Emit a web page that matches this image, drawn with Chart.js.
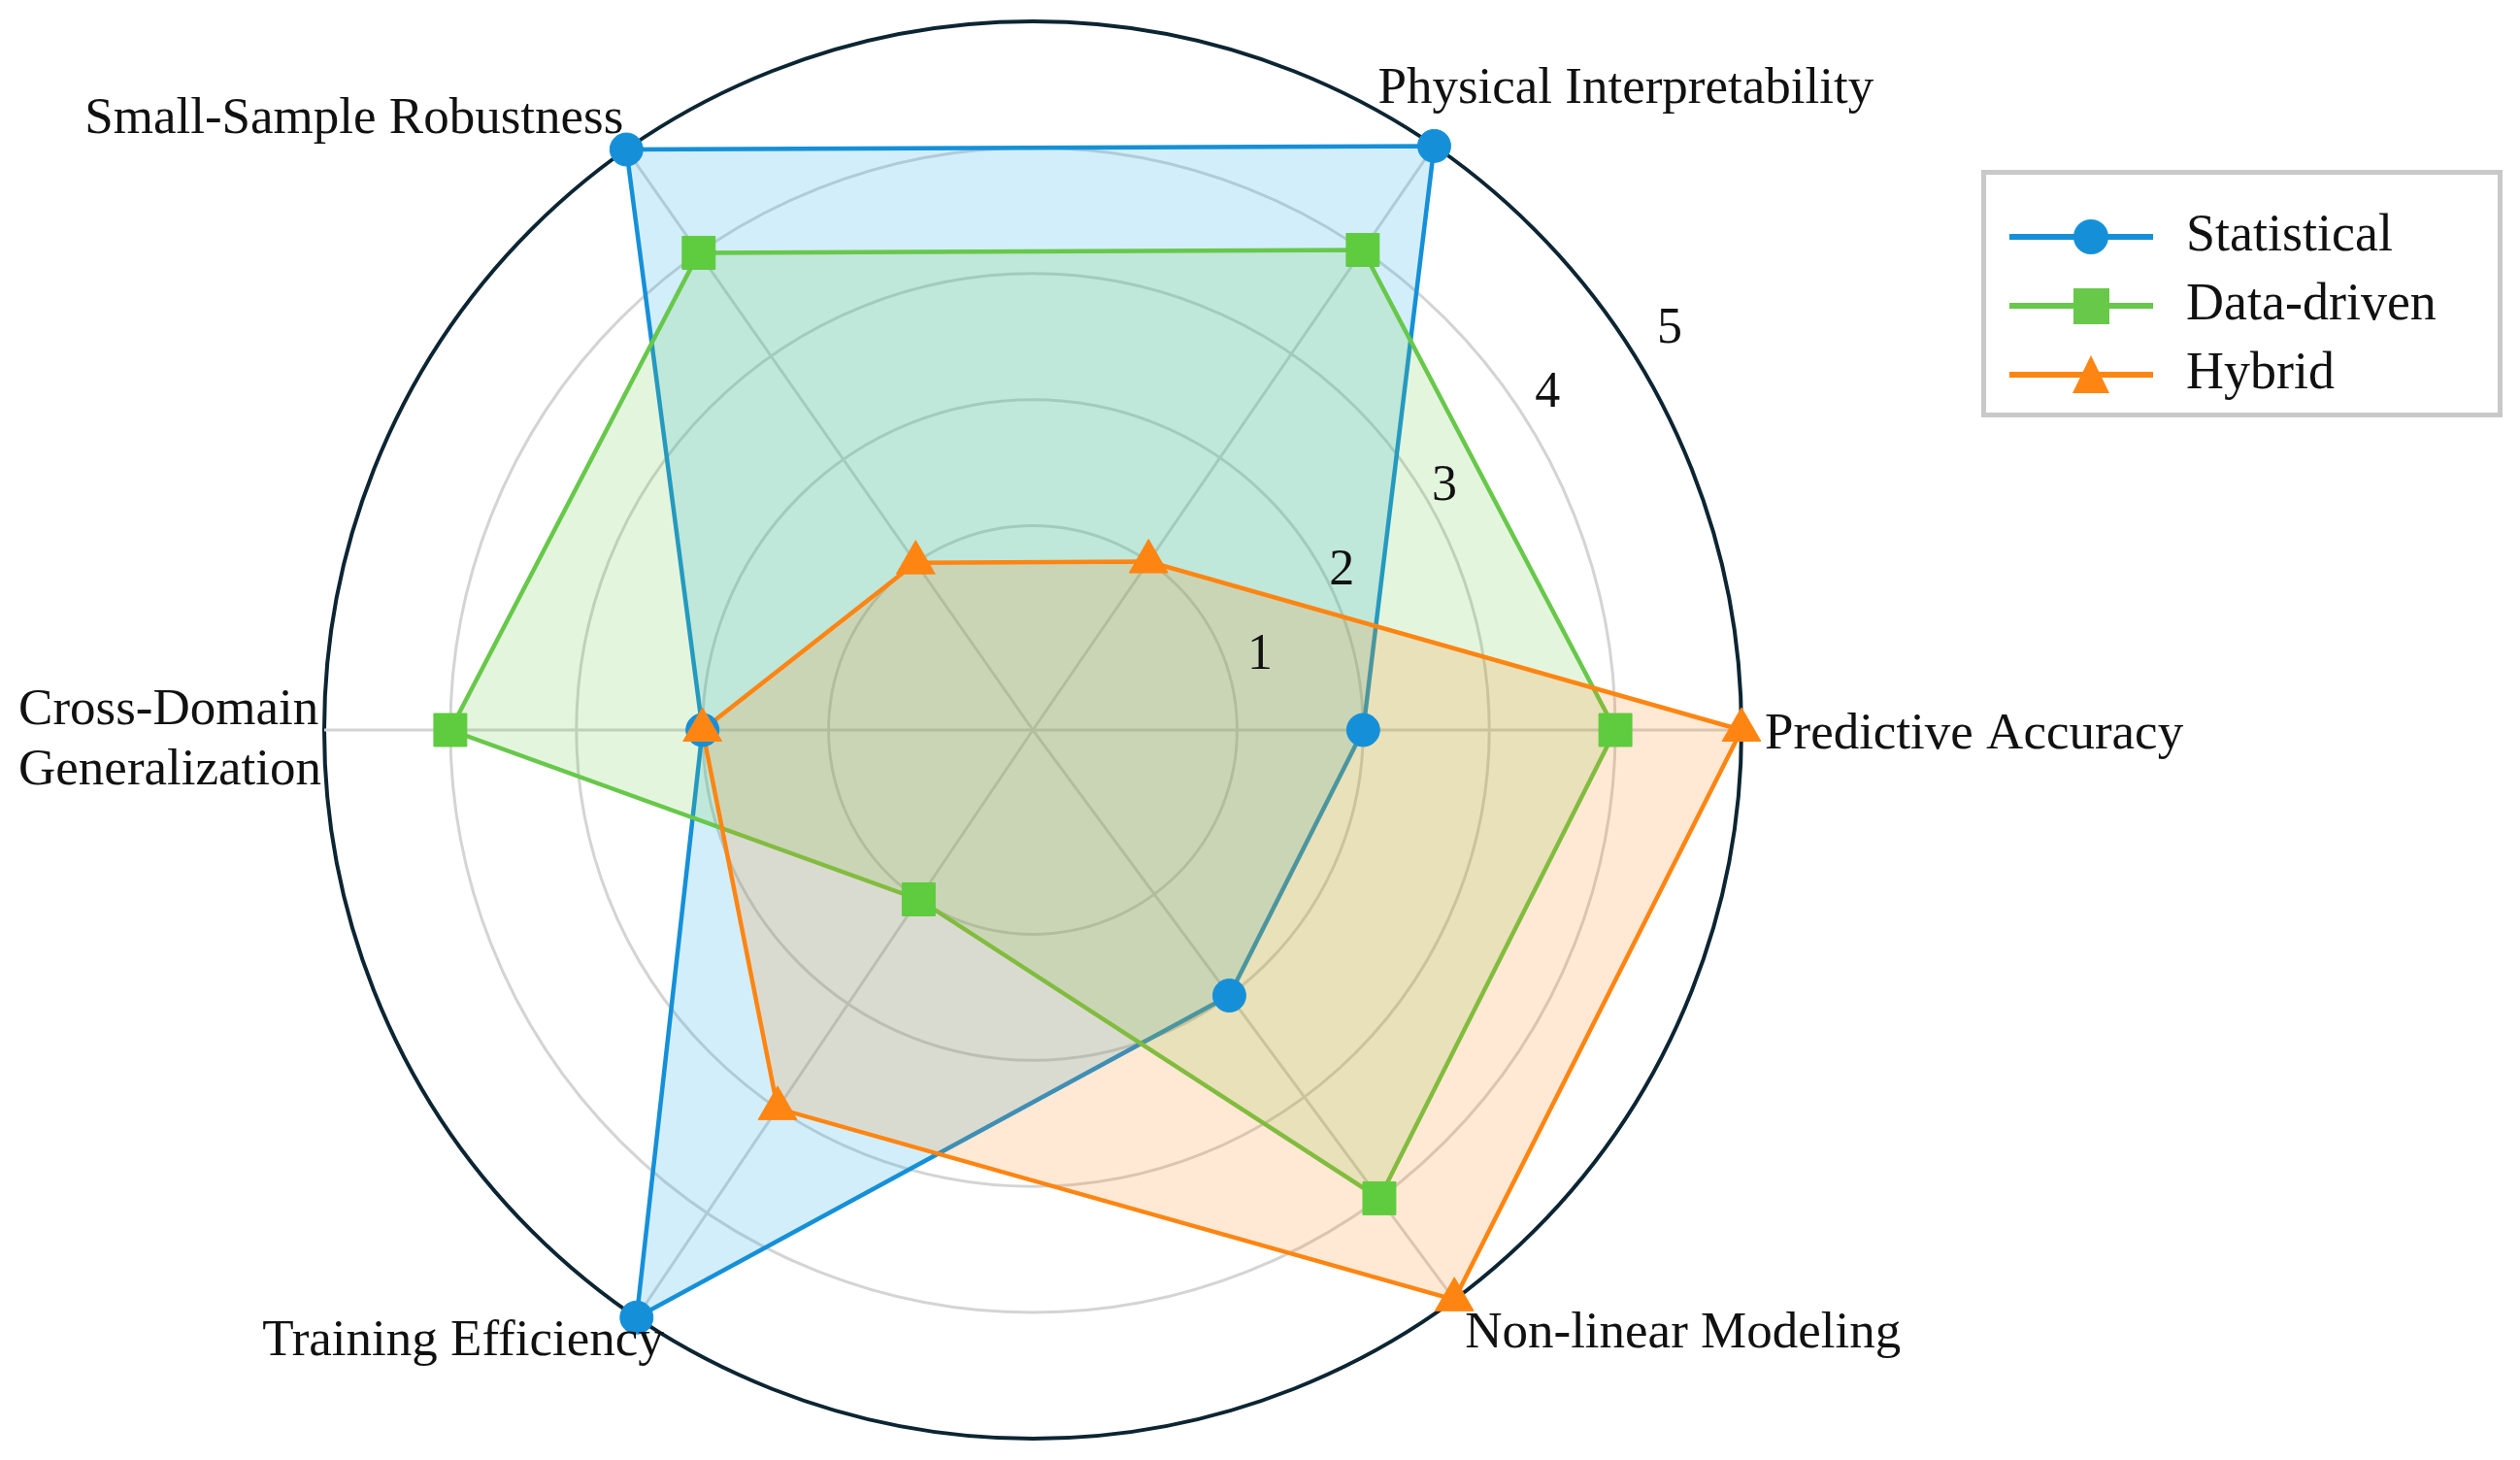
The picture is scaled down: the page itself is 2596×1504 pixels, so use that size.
<!DOCTYPE html>
<html>
<head>
<meta charset="utf-8">
<script src="https://cdn.jsdelivr.net/npm/chart.js@4.4.1/dist/chart.umd.min.js"></script>
<style>
  html, body { margin: 0; padding: 0; background: #fff; }
  #wrap { position: relative; width: 2596px; height: 1504px; }
  #legend { position: absolute; left: 2041px; top: 175px; width: 537px; height: 255px;
            box-sizing: border-box; border: 5px solid #c9c9c9; background: #fff;
            font-family: "Liberation Serif", serif; font-size: 54px; color: #111; }
  .row { position: absolute; left: 0; height: 60px; width: 100%; }
  .row svg { position: absolute; left: 24px; top: 10px; }
  .row span { position: absolute; left: 206px; top: -4px; line-height: 60px; white-space: nowrap; }
</style>
</head>
<body>
<div id="wrap">
  <canvas id="radar" width="2596" height="1504"></canvas>
  <div id="legend"></div>
</div>
<script>
// categories in clockwise order, starting at the right-hand spoke
const categories = ['Predictive Accuracy', 'Non-linear Modeling', 'Training Efficiency',
  ['Cross-Domain', 'Generalization'], 'Small-Sample Robustness', 'Physical Interpretability'];
const seriesNames = ['Statistical', 'Data-driven', 'Hybrid'];
const statistical = [2, 2, 5, 2, 5, 5];
const dataDriven = [4, 4, 1, 4, 4, 4];
const hybrid = [5, 5, 3, 2, 1, 1];
const tickValues = [1, 2, 3, 4, 5];

const blue = '#1590d8', green = '#67c84a', orange = '#ff8512';

// spokes in the picture are not evenly spaced (about 55 deg off the horizontal)
const spokeAngles = [0, 53.5, 124, 180, 235, 304.5];
class SpokeScale extends Chart.RadialLinearScale {
  getIndexAngle(index) {
    return (spokeAngles[index] + 90) * Math.PI / 180;
  }
}
SpokeScale.id = 'spokeRadial';
SpokeScale.defaults = Chart.RadialLinearScale.defaults;
Chart.register(SpokeScale);

const textFont = '"Liberation Serif", serif';

// label spots, relative to the outer end of each spoke
const labelPlace = [
  {align: 'left', dx: 24, dy: 1},
  {align: 'left', dx: 11, dy: 31},
  {align: 'right', dx: 28, dy: 21},
  {align: 'right', dx: -3, dy: 7},
  {align: 'right', dx: -3, dy: -35},
  {align: 'left', dx: -58, dy: -62}
];
const tickAngle = [18.9, 27.7, 30.9, 33.4, 32.4];
const tickPad = [37, 19, 24, 35, 47];

const textPlugin = {
  id: 'axisText',
  afterDatasetsDraw(chart) {
    const scale = chart.scales.r;
    const ctx = chart.ctx;
    const R = scale.drawingArea;
    ctx.save();
    ctx.fillStyle = '#111';
    ctx.textBaseline = 'alphabetic';
    ctx.textAlign = 'left';
    ctx.font = '53px ' + textFont;
    categories.forEach((label, i) => {
      const p = scale.getPointPosition(i, R);
      const pl = labelPlace[i];
      const lines = [].concat(label);
      const lh = 62;
      const widest = Math.max(...lines.map(s => ctx.measureText(s).width));
      lines.forEach((s, k) => {
        const cy = p.y + pl.dy + (k - (lines.length - 1) / 2) * lh;
        let x = p.x + pl.dx;
        if (pl.align === 'right') x -= widest;
        ctx.fillText(s, x, cy + 18);
      });
    });
    ctx.font = '52px ' + textFont;
    ctx.textAlign = 'center';
    tickValues.forEach((v, k) => {
      const d = scale.getDistanceFromCenterForValue(v) + tickPad[k];
      const a = tickAngle[k] * Math.PI / 180;
      ctx.fillText(String(v), scale.xCenter + d * Math.cos(a), scale.yCenter - d * Math.sin(a) + 17);
    });
    ctx.restore();
  }
};

// filled outline of one series (no markers)
function area(label, values, color, fillColor, order) {
  return {
    label: label,
    data: values,
    borderColor: color,
    backgroundColor: fillColor,
    borderWidth: 4.5,
    fill: 'start',
    pointRadius: 0,
    order: order
  };
}
// markers of one series, kept above every fill
function markers(label, values, color, style, radius, order) {
  return {
    label: label,
    data: values,
    borderColor: 'rgba(0,0,0,0)',
    backgroundColor: 'rgba(0,0,0,0)',
    borderWidth: 0,
    fill: false,
    pointStyle: style,
    pointRadius: radius,
    pointBackgroundColor: color,
    pointBorderColor: color,
    pointBorderWidth: 1,
    order: order
  };
}

new Chart(document.getElementById('radar'), {
  type: 'radar',
  data: {
    labels: categories,
    datasets: [
      area(seriesNames[0], statistical, blue, 'rgba(30,170,230,0.2)', 6),
      area(seriesNames[1], dataDriven, green, 'rgba(103,200,74,0.18)', 5),
      area(seriesNames[2], hybrid, orange, 'rgba(255,133,18,0.18)', 4),
      markers(seriesNames[0], statistical, blue, 'circle', 17, 3),
      markers(seriesNames[1], dataDriven, '#5fcb3f', 'rect', 24, 2),
      markers(seriesNames[2], hybrid, orange, 'triangle', 23, 1)
    ]
  },
  options: {
    responsive: false,
    animation: false,
    layout: { padding: { left: 334, right: 802, top: 22, bottom: 22 } },
    elements: { line: { tension: 0 } },
    plugins: { legend: { display: false }, tooltip: { enabled: false } },
    scales: {
      r: {
        type: 'spokeRadial',
        min: -0.62,
        max: 5,
        afterBuildTicks: s => { s.ticks = tickValues.map(v => ({value: v})); },
        ticks: { display: false },
        pointLabels: { display: false },
        grid: {
          circular: true,
          color: c => c.tick && c.tick.value === 5 ? '#0c2533' : '#d4d4d4',
          lineWidth: c => c.tick && c.tick.value === 5 ? 4 : 3
        },
        angleLines: { color: '#d4d4d4', lineWidth: 3 }
      }
    }
  },
  plugins: [textPlugin]
});

// legend
const legendEl = document.getElementById('legend');
const icons = [
  c => `<circle cx="84" cy="20" r="18" fill="${c}"/>`,
  c => `<rect x="66" y="2" width="37" height="37" fill="${c}"/>`,
  c => `<polygon points="84,0 103,39 65,39" fill="${c}"/>`
];
const rowTop = [34, 105, 176];
[blue, green, orange].forEach((c, i) => {
  const row = document.createElement('div');
  row.className = 'row';
  row.style.top = rowTop[i] + 'px';
  row.innerHTML = `<svg width="150" height="40"><line x1="0" y1="20" x2="148" y2="20" stroke="${c}" stroke-width="6"/>${icons[i](c)}</svg><span>${seriesNames[i]}</span>`;
  legendEl.appendChild(row);
});
</script>
</body>
</html>
